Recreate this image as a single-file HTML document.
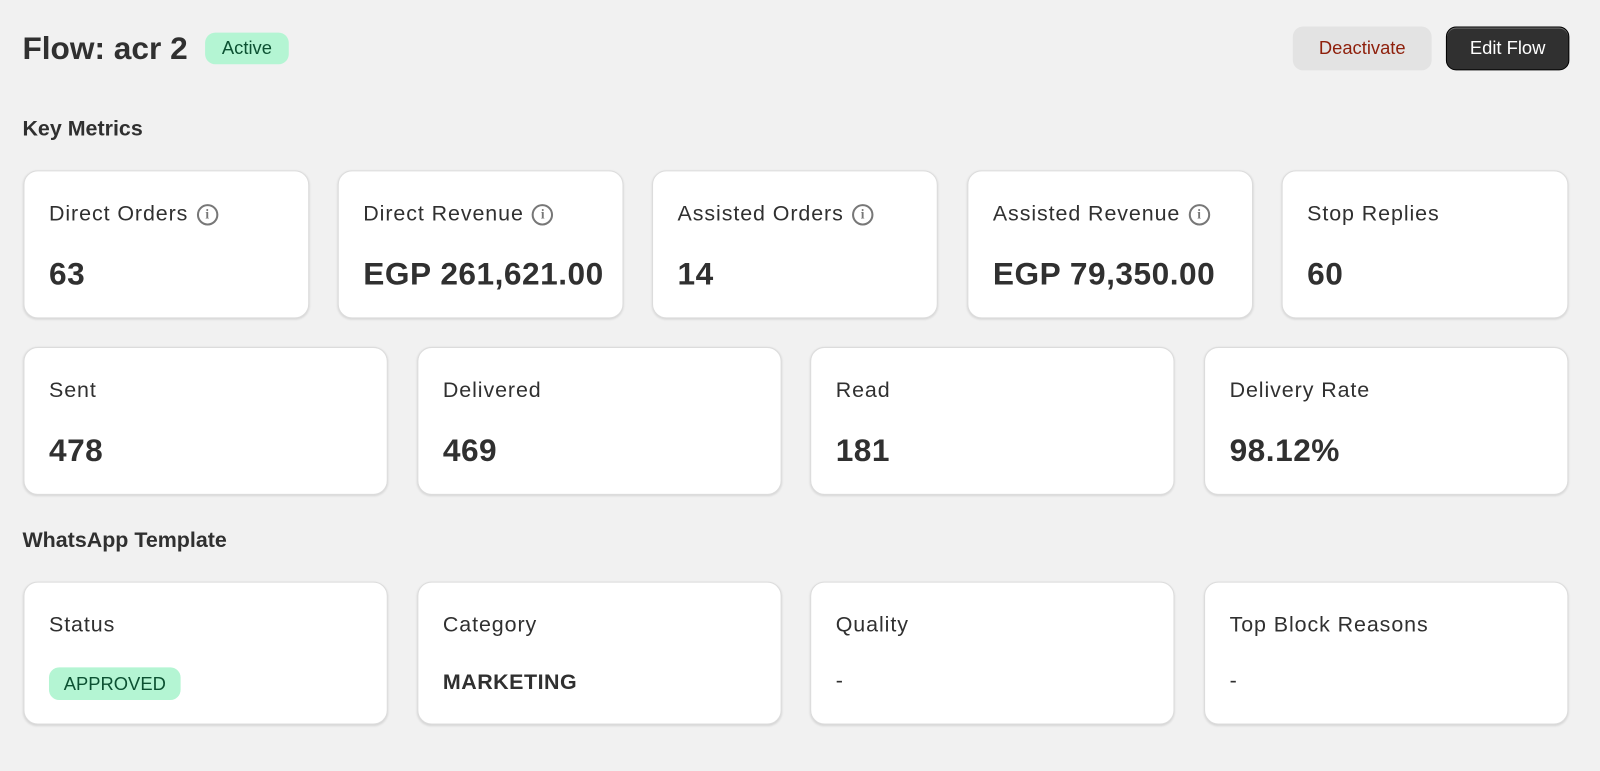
<!DOCTYPE html>
<html><head><meta charset="utf-8">
<style>
*{box-sizing:border-box;margin:0;padding:0}
body{width:1600px;height:771px;background:#f1f1f1;font-family:"Liberation Sans",sans-serif;color:#303030;position:relative;overflow:hidden}
#wrap{position:absolute;left:0;top:0;width:1568px;height:756px;transform:scale(1.0204);transform-origin:0 0}
h1{position:absolute;left:22px;top:30px;font-size:31px;font-weight:700;color:#303030}
.badge{position:absolute;background:#b4f5d3;color:#0c5132;border-radius:10px;font-size:18px;display:flex;align-items:center;justify-content:center}
.btn{position:absolute;top:26px;height:43px;border-radius:10px;font-size:18px;display:flex;align-items:center;justify-content:center}
.sec{position:absolute;left:22px;font-size:21px;font-weight:700;color:#303030}
.card{position:absolute;background:#fff;border-radius:14px;border:1px solid #dcdcdc;box-shadow:0 1px 2px rgba(0,0,0,.12)}
.lab{position:absolute;left:24px;top:30px;font-size:21px;color:#303030;display:flex;align-items:center;gap:8px;letter-spacing:0.9px}
.val{position:absolute;left:24px;top:83px;font-size:31px;font-weight:700;color:#303030;white-space:nowrap;letter-spacing:0.5px}
.info{width:21px;height:21px;border:2px solid #777;border-radius:50%;font-size:13px;font-weight:700;color:#777;display:inline-flex;align-items:center;justify-content:center;font-family:"Liberation Serif",serif;letter-spacing:0}
</style></head><body>
<div id="wrap">
<h1>Flow: acr 2</h1>
<div class="badge" style="left:201px;top:32px;width:82px;height:31px">Active</div>
<div class="btn" style="left:1267px;width:136px;background:#e3e3e3;color:#8e1f0b">Deactivate</div>
<div class="btn" style="left:1417px;width:121px;background:#303030;color:#fff;border:1px solid #000;box-shadow:inset 0 1px 0 rgba(255,255,255,.3)">Edit Flow</div>

<div class="sec" style="top:115px">Key Metrics</div>

<div class="card" style="left:23px;top:167px;width:280px;height:145px"><div class="lab">Direct Orders <span class="info">i</span></div><div class="val">63</div></div>
<div class="card" style="left:331px;top:167px;width:280px;height:145px"><div class="lab">Direct Revenue <span class="info">i</span></div><div class="val">EGP 261,621.00</div></div>
<div class="card" style="left:639px;top:167px;width:280px;height:145px"><div class="lab">Assisted Orders <span class="info">i</span></div><div class="val">14</div></div>
<div class="card" style="left:948px;top:167px;width:280px;height:145px"><div class="lab">Assisted Revenue <span class="info">i</span></div><div class="val">EGP 79,350.00</div></div>
<div class="card" style="left:1256px;top:167px;width:281px;height:145px"><div class="lab">Stop Replies</div><div class="val">60</div></div>

<div class="card" style="left:23px;top:340px;width:357px;height:145px"><div class="lab">Sent</div><div class="val">478</div></div>
<div class="card" style="left:409px;top:340px;width:357px;height:145px"><div class="lab">Delivered</div><div class="val">469</div></div>
<div class="card" style="left:794px;top:340px;width:357px;height:145px"><div class="lab">Read</div><div class="val">181</div></div>
<div class="card" style="left:1180px;top:340px;width:357px;height:145px"><div class="lab">Delivery Rate</div><div class="val">98.12%</div></div>

<div class="sec" style="top:518px">WhatsApp Template</div>

<div class="card" style="left:23px;top:570px;width:357px;height:140px"><div class="lab">Status</div>
<div class="badge" style="left:24px;top:83px;width:129px;height:32px;font-size:18px">APPROVED</div></div>
<div class="card" style="left:409px;top:570px;width:357px;height:140px"><div class="lab">Category</div><div class="val" style="top:86px;font-size:21px">MARKETING</div></div>
<div class="card" style="left:794px;top:570px;width:357px;height:140px"><div class="lab">Quality</div><div class="val" style="top:85px;font-size:21px;font-weight:400">-</div></div>
<div class="card" style="left:1180px;top:570px;width:357px;height:140px"><div class="lab">Top Block Reasons</div><div class="val" style="top:85px;font-size:21px;font-weight:400">-</div></div>
</div>
</body></html>
